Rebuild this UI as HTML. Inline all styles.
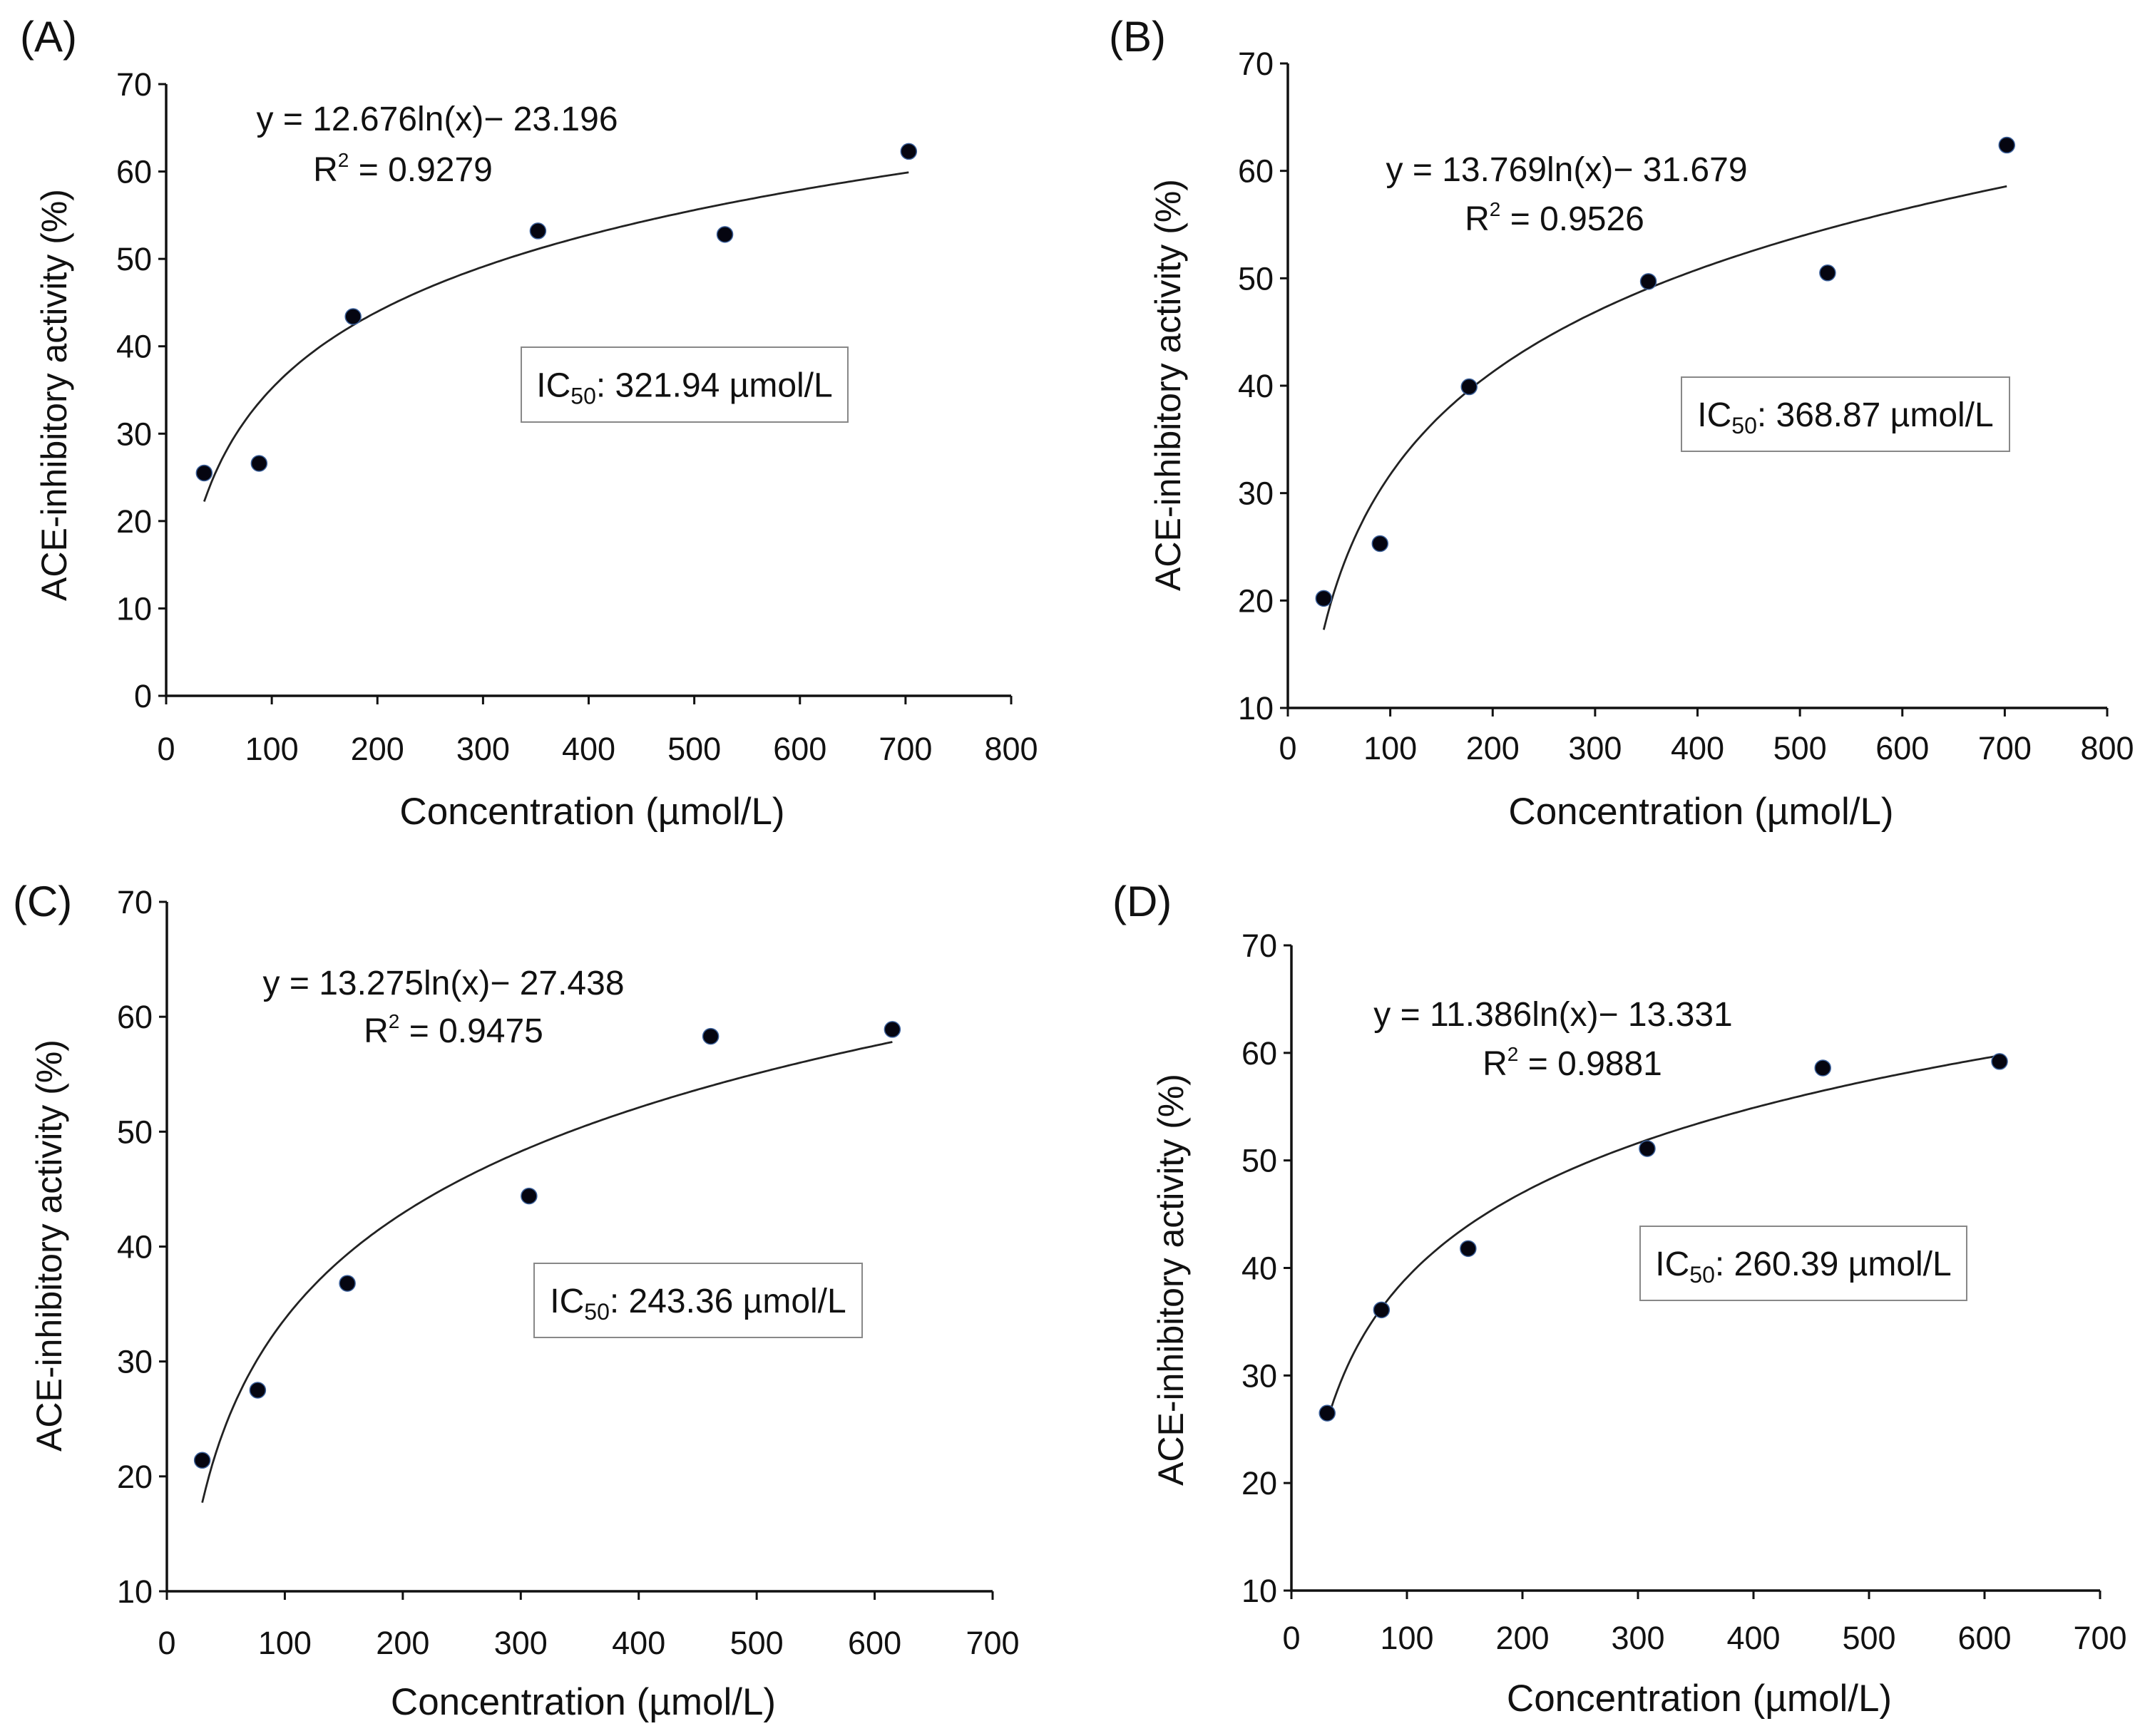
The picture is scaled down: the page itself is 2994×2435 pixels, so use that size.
<!DOCTYPE html>
<html><head><meta charset="utf-8"><style>
html,body{margin:0;padding:0;background:#fff}
svg{display:block;font-family:"Liberation Sans",Arial,sans-serif}
</style></head><body>
<svg id="fig" width="2994" height="2435" viewBox="0 0 2994 2435" xmlns="http://www.w3.org/2000/svg"></svg>
<script>
// ---- data ----
const xA = [36, 88, 177, 352, 529, 703];
const yA = [25.5, 26.6, 43.4, 53.2, 52.8, 62.3];
const xB = [35, 90, 177, 352, 527, 702];
const yB = [20.2, 25.3, 39.9, 49.7, 50.5, 62.4];
const xC = [30, 77, 153, 307, 461, 615];
const yC = [21.4, 27.5, 36.8, 44.4, 58.3, 58.9];
const xD = [31, 78, 153, 308, 460, 613];
const yD = [26.5, 36.1, 41.8, 51.1, 58.6, 59.2];
const fitA = [12.676, -23.196];
const fitB = [13.769, -31.679];
const fitC = [13.275, -27.438];
const fitD = [11.386, -13.331];
const xTicks800 = [0,100,200,300,400,500,600,700,800];
const xTicks700 = [0,100,200,300,400,500,600,700];
const yTicks0 = [0,10,20,30,40,50,60,70];
const yTicks10 = [10,20,30,40,50,60,70];
const eqA = ["y = 12.676ln(x)− 23.196", "0.9279", "321.94"];
const eqB = ["y = 13.769ln(x)− 31.679", "0.9526", "368.87"];
const eqC = ["y = 13.275ln(x)− 27.438", "0.9475", "243.36"];
const eqD = ["y = 11.386ln(x)− 13.331", "0.9881", "260.39"];

const NS = "http://www.w3.org/2000/svg";
const svg = document.getElementById("fig");
function mk(tag, attrs, parent){
  const e = document.createElementNS(NS, tag);
  for (const k in attrs) e.setAttribute(k, attrs[k]);
  (parent||svg).appendChild(e);
  return e;
}

const panels = [
  {id:"a", label:"(A)", lab:[28,72], xs:xA, ys:yA, fit:fitA, xt:xTicks800, yt:yTicks0,
   px0:233, px1:1418, py0:976, py1:118, eq:eqA, eqP:[613,183], r2P:[565,254], box:[731,487,458,105], ytX:76, ytY:554, xtY:1138, tickOff:90},
  {id:"b", label:"(B)", lab:[1555,72], xs:xB, ys:yB, fit:fitB, xt:xTicks800, yt:yTicks10,
   px0:1806, px1:2955, py0:993, py1:89, eq:eqB, eqP:[2197,254], r2P:[2180,323], box:[2358,529,460,104], ytX:1638, ytY:540, xtY:1138, tickOff:72},
  {id:"c", label:"(C)", lab:[18,1285], xs:xC, ys:yC, fit:fitC, xt:xTicks700, yt:yTicks10,
   px0:234, px1:1392, py0:2232, py1:1265, eq:eqC, eqP:[622,1395], r2P:[636,1462], box:[749,1772,460,104], ytX:69, ytY:1747, xtY:2387, tickOff:88},
  {id:"d", label:"(D)", lab:[1560,1285], xs:xD, ys:yD, fit:fitD, xt:xTicks700, yt:yTicks10,
   px0:1811, px1:2945, py0:2231, py1:1326, eq:eqD, eqP:[2178,1439], r2P:[2205,1508], box:[2300,1720,458,104], ytX:1642, ytY:1795, xtY:2382, tickOff:82}
];

panels.forEach(p => {
  const g = mk("g", {});
  
  
  const xmin = p.xt[0], xmax = p.xt[p.xt.length-1];
  const ymin = p.yt[0], ymax = p.yt[p.yt.length-1];
  const sx = v => p.px0 + (v - xmin) / (xmax - xmin) * (p.px1 - p.px0);
  const sy = v => p.py0 - (v - ymin) / (ymax - ymin) * (p.py0 - p.py1);

  const lab = mk("text", {x:p.lab[0], y:p.lab[1], "font-size":60, fill:"#111"}, g);
  lab.textContent = p.label;
  
  

  const ax = mk("path", {d:`M${p.px0},${p.py1}V${p.py0}H${p.px1}`, stroke:"#111", "stroke-width":3.5, fill:"none"}, g);
  
  

  p.yt.forEach(v => {
    const y = sy(v);
    mk("line", {x1:p.px0-11, x2:p.px0, y1:y, y2:y, stroke:"#111", "stroke-width":3}, g);
    const t = mk("text", {x:p.px0-20, y:y+16, "font-size":45, "text-anchor":"end", fill:"#111"}, g);
    t.textContent = v;
    
    
  });
  p.xt.forEach(v => {
    const x = sx(v);
    mk("line", {x1:x, x2:x, y1:p.py0, y2:p.py0+12, stroke:"#111", "stroke-width":3}, g);
    const t = mk("text", {x:x, y:p.py0+p.tickOff, "font-size":45, "text-anchor":"middle", fill:"#111"}, g);
    t.textContent = v;
    
    
  });

  const xt = mk("text", {x:(p.px0+p.px1)/2 + 5, y:p.xtY+18, "font-size":53, "text-anchor":"middle", fill:"#111"}, g);
  xt.textContent = "Concentration (µmol/L)";
  
  
  const yt = mk("text", {x:0, y:0, "font-size":50, "text-anchor":"middle", "dominant-baseline":"central", fill:"#111",
     transform:`translate(${p.ytX},${p.ytY}) rotate(-90)`}, g);
  yt.textContent = "ACE-inhibitory activity (%)";
  
  

  const x0 = p.xs[0], x1 = p.xs[p.xs.length-1];
  let d = "";
  for (let i = 0; i <= 200; i++) {
    const xv = x0 + (x1 - x0) * i / 200;
    const yv = p.fit[0] * Math.log(xv) + p.fit[1];
    d += (i ? "L" : "M") + sx(xv).toFixed(1) + "," + sy(yv).toFixed(1);
  }
  const c = mk("path", {d:d, stroke:"#222", "stroke-width":2.8, fill:"none"}, g);
  
  

  p.xs.forEach((xv, i) => {
    const dot = mk("circle", {cx:sx(xv), cy:sy(p.ys[i]), r:11, fill:"#050510", stroke:"#3a5f9a", "stroke-width":1.5}, g);
    
    
  });

  const e1 = mk("text", {x:p.eqP[0], y:p.eqP[1], "font-size":48, "text-anchor":"middle", fill:"#111"}, g);
  e1.textContent = p.eq[0];
  
  
  const e2 = mk("text", {x:p.r2P[0], y:p.r2P[1], "font-size":48, "text-anchor":"middle", fill:"#111"}, g);
  e2.innerHTML = 'R<tspan dy="-20" font-size="28">2</tspan><tspan dy="20"> = ' + p.eq[1] + '</tspan>';
  
  

  const b = p.box;
  const br = mk("rect", {x:b[0], y:b[1], width:b[2], height:b[3], fill:"#fff", stroke:"#888", "stroke-width":2}, g);
  
  
  const it = mk("text", {x:b[0]+b[2]/2, y:b[1]+b[3]/2+17, "font-size":48, "text-anchor":"middle", fill:"#111"}, g);
  it.innerHTML = 'IC<tspan dy="10" font-size="32">50</tspan><tspan dy="-10">: ' + p.eq[2] + ' µmol/L</tspan>';
  
  
});
</script>
</body></html>
